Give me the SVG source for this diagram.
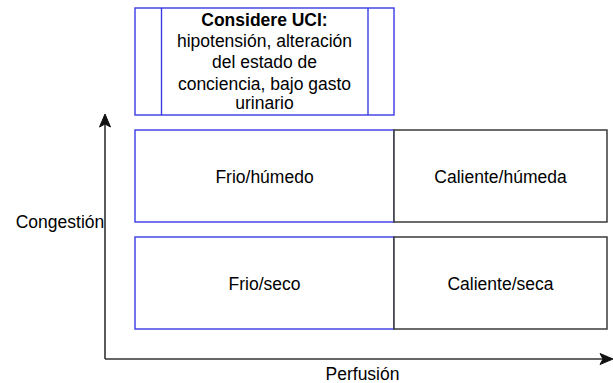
<svg xmlns="http://www.w3.org/2000/svg" width="613" height="383" viewBox="0 0 613 383">
<style>
.t{font-family:"Liberation Sans",Arial,sans-serif;font-size:17.5px;fill:#000;text-anchor:middle}
.b{font-weight:bold}
.blue{fill:#fff;stroke:#3a3ae6;stroke-width:1.4}
.dark{fill:#fff;stroke:#3a3a3a;stroke-width:1.5}
.axis{fill:none;stroke:#333;stroke-width:1.6}
</style>
<rect width="613" height="383" fill="#fff"/>
<g id="connectors">
<path class="axis" d="M105 359 V124"/>
<path d="M105 114 L99.5 127 L105 124 L110.5 127 Z" fill="#111" stroke="#111" stroke-width="1"/>
<path class="axis" d="M105 359 H604"/>
<path d="M613 359 L600 353.5 L603 359 L600 364.5 Z" fill="#111" stroke="#111" stroke-width="1"/>
</g>
<g id="uci">
<rect class="blue" x="135" y="8" width="259" height="107"/>
<line class="blue" x1="161.5" y1="8" x2="161.5" y2="115"/>
<line class="blue" x1="368" y1="8" x2="368" y2="115"/>
<text class="t b" x="264.5" y="25.5">Considere UCI:</text>
<text class="t" x="264.5" y="46.5">hipotensión, alteración</text>
<text class="t" x="264.5" y="68">del estado de</text>
<text class="t" x="264.5" y="89.5">conciencia, bajo gasto</text>
<text class="t" x="264.5" y="109">urinario</text>
</g>
<g id="frio-humedo">
<rect class="blue" x="135" y="130" width="259" height="92"/>
<text class="t" x="264.5" y="183">Frio/húmedo</text>
</g>
<g id="caliente-humeda">
<rect class="dark" x="394" y="130" width="213" height="92"/>
<text class="t" x="500.5" y="183">Caliente/húmeda</text>
</g>
<g id="frio-seco">
<rect class="blue" x="135" y="237" width="259" height="92"/>
<text class="t" x="264.5" y="290">Frio/seco</text>
</g>
<g id="caliente-seca">
<rect class="dark" x="394" y="237" width="213" height="92"/>
<text class="t" x="500.5" y="290">Caliente/seca</text>
</g>
<g id="congestion">
<text class="t" x="60" y="228">Congestión</text>
</g>
<g id="perfusion">
<text class="t" x="362.5" y="380">Perfusión</text>
</g>
</svg>
